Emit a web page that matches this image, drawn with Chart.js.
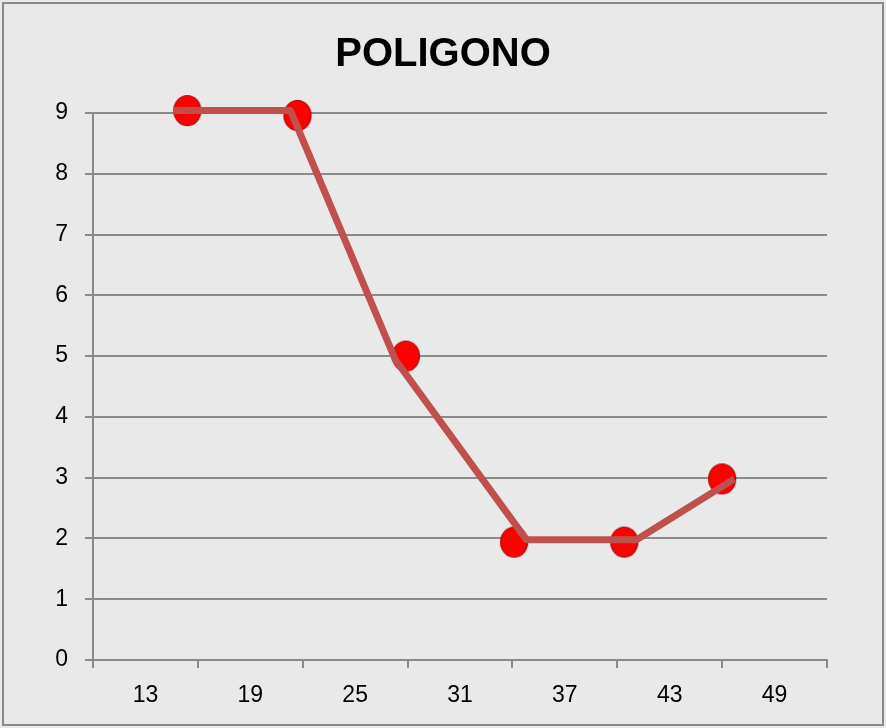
<!DOCTYPE html>
<html>
<head>
<meta charset="utf-8">
<script src="https://cdn.jsdelivr.net/npm/chart.js@4/dist/chart.umd.min.js"></script>
<style>
  html, body { margin: 0; padding: 0; background: #e9e9e9; }
  #wrap { width: 886px; height: 728px; }
</style>
</head>
<body>
<div id="wrap"><canvas id="poly" width="886" height="728"></canvas></div>
<script>
const chartTitle = "POLIGONO";
// class marks shown on the axis
const xLabels = ["13", "19", "25", "31", "37", "43", "49"];
// y ticks 0..9
const yMin = 0, yMax = 9;

// marker positions (in class-axis units)
const markerX = [15.4, 21.7, 27.9, 34.1, 40.4, 46.0];
const markerY = [9.04, 8.96, 5.0, 1.94, 1.94, 2.98];

// the red polyline is drawn a bit apart from the markers
const lineX = [14.6, 21.3, 27.3, 34.8, 41.1, 46.7];
const lineY = [9.04, 9.04, 4.94, 1.98, 1.98, 2.98];

const gridGray = "#8a8a8a";
const font = "'Liberation Sans', Arial, sans-serif";

// oval marker image
function makeMarker() {
  const c = document.createElement("canvas");
  c.width = 30; c.height = 33;
  const g = c.getContext("2d");
  g.beginPath();
  g.ellipse(15, 16.5, 13.5, 15, 0, 0, Math.PI * 2);
  g.fillStyle = "#ff0000";
  g.fill();
  g.lineWidth = 1.2;
  g.strokeStyle = "#b00000";
  g.stroke();
  return c;
}

// background, frame and the title (centred on the whole picture)
const bgPlugin = {
  id: "bg",
  beforeDraw(chart) {
    const c = chart.ctx;
    c.save();
    c.fillStyle = "#e9e9e9";
    c.fillRect(0, 0, chart.width, chart.height);
    c.strokeStyle = "#8a8a8a";
    c.lineWidth = 2;
    c.strokeRect(3, 3, 880, 722);
    c.fillStyle = "#000";
    c.font = "bold 40px " + font;
    c.textAlign = "center";
    c.textBaseline = "middle";
    c.fillText(chartTitle, 443, 55);
    c.restore();
  }
};

const ctx = document.getElementById("poly").getContext("2d");
new Chart(ctx, {
  type: "line",
  data: {
    labels: xLabels,
    datasets: [
      {
        data: lineX.map((x, i) => ({ x: x, y: lineY[i] })),
        xAxisID: "xv",
        borderColor: "#c0504d",
        borderWidth: 7,
        pointRadius: 0,
        tension: 0,
        clip: false,
        borderCapStyle: "butt",
        borderJoinStyle: "round",
        fill: false
      },
      {
        data: markerX.map((x, i) => ({ x: x, y: markerY[i] })),
        xAxisID: "xv",
        showLine: false,
        clip: false,
        pointStyle: makeMarker(),
        pointRadius: 15
      }
    ]
  },
  options: {
    responsive: false,
    animation: false,
    layout: { padding: { left: 33, right: 59, top: 113, bottom: 20 } },
    plugins: {
      legend: { display: false },
      tooltip: { enabled: false },
      title: { display: false }
    },
    scales: {
      x: {
        type: "category",
        position: "bottom",
        offset: true,
        grid: { offset: true, drawOnChartArea: false, drawTicks: true, tickLength: 8, color: gridGray, lineWidth: 2 },
        border: { display: true, color: gridGray, width: 2 },
        ticks: { color: "#000", padding: 14, font: { family: font, size: 23 } },
        afterFit(s) { s.height = 48; }
      },
      xv: {
        type: "linear",
        position: "bottom",
        display: false,
        min: 10,
        max: 52
      },
      y: {
        min: yMin,
        max: yMax,
        grid: { color: gridGray, lineWidth: 2, tickLength: 8 },
        border: { display: true, color: gridGray, width: 2 },
        ticks: { stepSize: 1, color: "#000", padding: 17, font: { family: font, size: 23 } },
        afterFit(s) { s.width = 60; }
      }
    }
  },
  plugins: [bgPlugin]
});
</script>
</body>
</html>
